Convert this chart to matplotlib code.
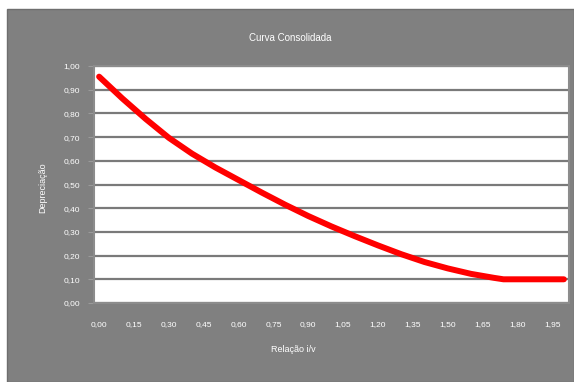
import matplotlib
matplotlib.use("Agg")
import matplotlib.pyplot as plt
from matplotlib.patches import Rectangle

# data (Relação i/v vs Depreciação)
relacao = [0.00, 0.10, 0.20, 0.30, 0.40, 0.50, 0.60, 0.70, 0.80, 0.90,
           1.00, 1.10, 1.20, 1.30, 1.40, 1.50, 1.60, 1.70, 1.74, 1.80,
           1.90, 2.00]
depreciacao = [0.955, 0.863, 0.777, 0.697, 0.630, 0.572, 0.519, 0.466, 0.415, 0.367,
               0.323, 0.282, 0.243, 0.206, 0.173, 0.146, 0.123, 0.106, 0.100, 0.100,
               0.100, 0.100]

xticks = [0.00, 0.15, 0.30, 0.45, 0.60, 0.75, 0.90, 1.05, 1.20, 1.35, 1.50, 1.65, 1.80, 1.95]
yticks = [0.0, 0.1, 0.2, 0.3, 0.4, 0.5, 0.6, 0.7, 0.8, 0.9, 1.0]

bg = "#808080"
plt.rcParams['font.family'] = ['Liberation Sans', 'DejaVu Sans']

W, H = 574, 382
fig = plt.figure(figsize=(W / 100, H / 100), dpi=100, facecolor="white")
# grey chart area, leaving a thin white margin top/left
fig.patches.append(Rectangle((7 / W, 0), 1 - 7 / W, (H - 9) / H,
                             transform=fig.transFigure, facecolor=bg,
                             edgecolor="#6e6e6e", linewidth=1, zorder=-5))

left, right, top, bottom = 94, 569, 66, 303
ax = fig.add_axes([left / W, (H - bottom) / H, (right - left) / W, (bottom - top) / H])
ax.set_zorder(2)
ax.set_facecolor("white")

ax.plot(relacao, depreciacao, color="#ff0000", linewidth=4.3,
        solid_capstyle="round", solid_joinstyle="round", zorder=3)

ax.set_xlim(-0.022, 2.022)
ax.set_ylim(0, 1.0)
ax.set_xticks(xticks)
ax.set_xticklabels([f"{v:.2f}".replace(".", ",") for v in xticks])
ax.set_yticks(yticks)
ax.set_yticklabels([f"{v:.2f}".replace(".", ",") for v in yticks])

ax.grid(axis="y", color="#7a7a7a", linewidth=1.6)
ax.set_axisbelow(True)
for s in ax.spines.values():
    s.set_color("#8c8c8c")
    s.set_linewidth(1.5)

ax.tick_params(axis="x", length=0, pad=13, labelsize=6, labelcolor="white")
ax.tick_params(axis="y", length=4, color="#9a9a9a", pad=6, labelsize=6, labelcolor="white")

fig.text(290 / W, 1 - 38 / H, "Curva Consolidada", color="white", fontsize=7,
         ha="center", va="center")
fig.text(293 / W, 1 - 350 / H, "Relação i/v", color="white", fontsize=6.5,
         ha="center", va="center")
fig.text(43 / W, 1 - 188 / H, "Depreciação", color="white", fontsize=6.5,
         ha="center", va="center", rotation=90)

fig.savefig("out.png", dpi=100, facecolor=fig.get_facecolor())
